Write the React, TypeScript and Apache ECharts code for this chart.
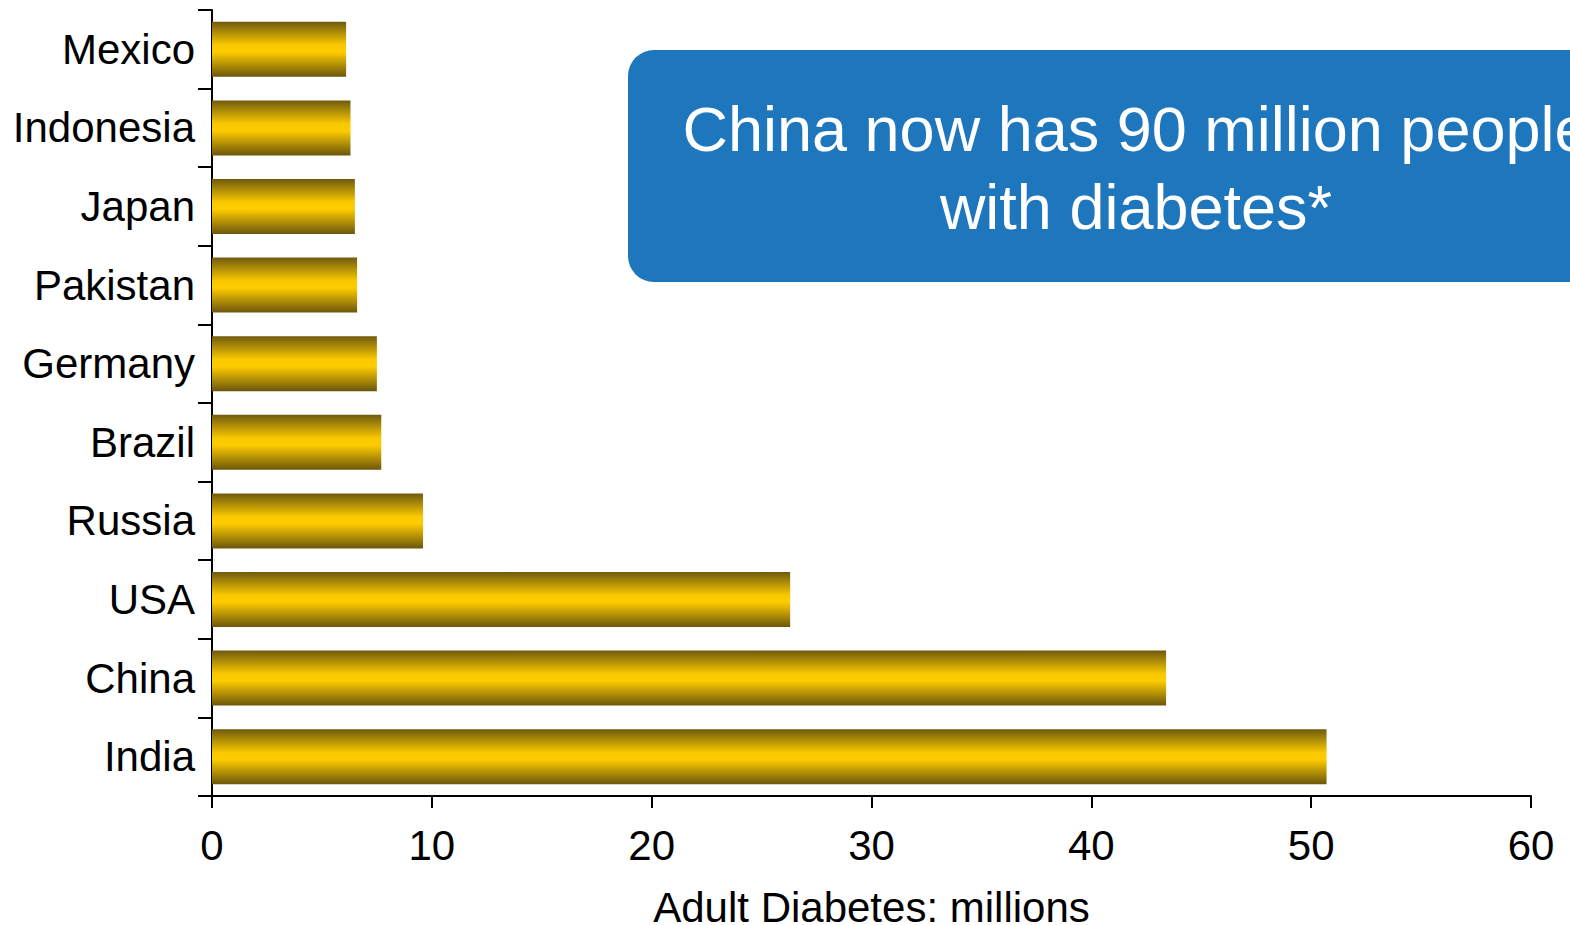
import React, { useEffect, useRef } from "react";
import * as echarts from "echarts";

// Countries listed bottom-to-top as they appear on the category axis
const countries = [
  "India",
  "China",
  "USA",
  "Russia",
  "Brazil",
  "Germany",
  "Pakistan",
  "Japan",
  "Indonesia",
  "Mexico",
];

// Adults with diabetes, millions
const diabetesMillions = [50.7, 43.4, 26.3, 9.6, 7.7, 7.5, 6.6, 6.5, 6.3, 6.1];

const xTicks = { min: 0, max: 60, interval: 10 };

const axisTitle = "Adult Diabetes: millions";
const calloutLines = ["China now has 90 million people", "with diabetes*"];

const FONT = '"Liberation Sans", Arial, Helvetica, sans-serif';

export default function App() {
  const ref = useRef<HTMLDivElement>(null);

  useEffect(() => {
    if (!ref.current) return;
    const chart = echarts.init(ref.current, null, { renderer: "svg" });

    const barGradient = new echarts.graphic.LinearGradient(0, 0, 0, 1, [
      { offset: 0, color: "#6f5a0e" },
      { offset: 0.42, color: "#f9c800" },
      { offset: 0.55, color: "#ffcc00" },
      { offset: 1, color: "#6b560c" },
    ]);

    chart.setOption({
      animation: false,
      backgroundColor: "#ffffff",
      grid: {
        left: 212,
        right: 39,
        top: 10,
        bottom: 129,
        containLabel: false,
        outerBoundsMode: "none",
      },
      xAxis: {
        type: "value",
        min: xTicks.min,
        max: xTicks.max,
        interval: xTicks.interval,
        name: axisTitle,
        nameLocation: "middle",
        nameGap: 90,
        nameTextStyle: { fontFamily: FONT, fontSize: 42, color: "#000" },
        axisLine: { show: true, lineStyle: { color: "#000", width: 2 } },
        axisTick: { show: true, length: 12, lineStyle: { color: "#000", width: 2 } },
        axisLabel: { fontFamily: FONT, fontSize: 42, color: "#000", margin: 28 },
        splitLine: { show: false },
      },
      yAxis: {
        type: "category",
        data: countries,
        axisLine: { show: true, lineStyle: { color: "#000", width: 2 } },
        axisTick: { show: true, length: 14, alignWithLabel: false, lineStyle: { color: "#000", width: 2 } },
        axisLabel: { fontFamily: FONT, fontSize: 42, color: "#000", margin: 17 },
        splitLine: { show: false },
      },
      series: [
        {
          type: "bar",
          data: diabetesMillions,
          barCategoryGap: "30%",
          itemStyle: { color: barGradient },
        },
      ],
      graphic: [
        {
          type: "rect",
          shape: { x: 628, y: 50, width: 1020, height: 232, r: 26 },
          style: { fill: "#1e76bc" },
          z: 10,
        },
        {
          type: "text",
          x: 1136,
          y: 168,
          z: 11,
          style: {
            text: calloutLines.join("\n"),
            fill: "#ffffff",
            font: `63px ${FONT}`,
            fontSize: 63,
            fontFamily: FONT,
            lineHeight: 78,
            align: "center",
            verticalAlign: "middle",
          },
        },
      ],
    });

    return () => chart.dispose();
  }, []);

  return (
    <div
      ref={ref}
      style={{ position: "fixed", left: 0, top: 0, width: 1570, height: 925 }}
    />
  );
}
